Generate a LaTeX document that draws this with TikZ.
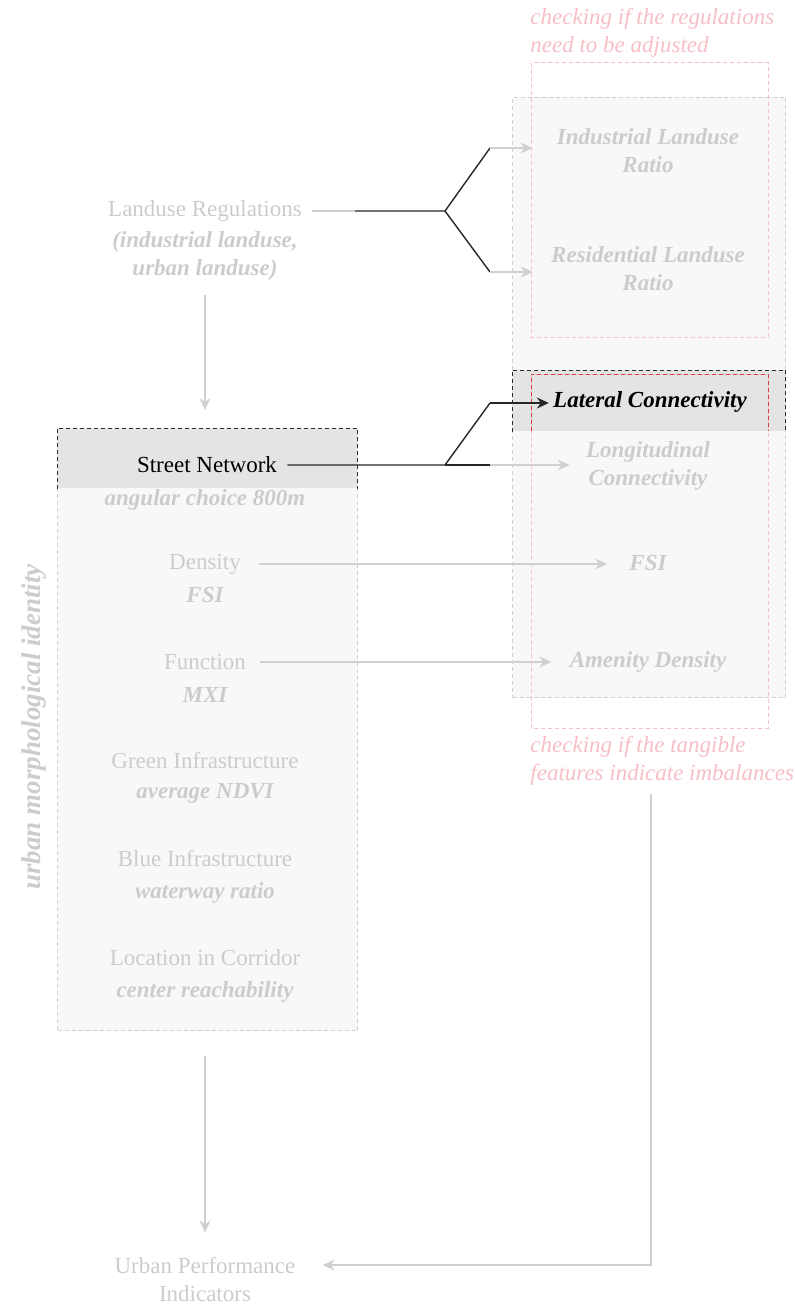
\documentclass[tikz,border=0pt]{standalone}
\usepackage{fontspec}
\setmainfont{LiberationSerif-Regular.ttf}[
  BoldFont=LiberationSerif-Bold.ttf,
  ItalicFont=LiberationSerif-Italic.ttf,
  BoldItalicFont=LiberationSerif-BoldItalic.ttf]
\usetikzlibrary{arrows.meta,positioning,calc}
\definecolor{txtgray}{RGB}{204,204,204}
\definecolor{linegray}{RGB}{208,208,208}
\definecolor{boxfill}{RGB}{248,248,248}
\definecolor{bandfill}{RGB}{228,228,228}
\definecolor{notepink}{RGB}{247,190,198}
\definecolor{dashpink}{RGB}{246,192,198}
\definecolor{dashred}{RGB}{214,64,64}
\definecolor{dashdark}{RGB}{45,45,45}
\newcommand{\lbfont}{\fontsize{11.5}{14}\selectfont}

\begin{document}
\begin{tikzpicture}[x=0.5pt,y=-0.5pt,
    lbl/.style={font=\lbfont, text=txtgray, align=center, inner sep=2pt},
    metric/.style={lbl, font=\lbfont\bfseries\itshape},
    note/.style={font=\lbfont\itshape, text=notepink, align=left, anchor=west, inner sep=1pt},
    gbox/.style={draw=linegray, dash pattern=on 2pt off 1.5pt, fill=boxfill, line width=0.5pt,
      anchor=north west, inner sep=0pt},
    band/.style={fill=bandfill, anchor=north west, inner sep=0pt},
    darkdash/.style={draw=dashdark, dash pattern=on 2pt off 1.5pt, line width=0.5pt},
    pinkdash/.style={draw=dashpink, dash pattern=on 2pt off 1.5pt, line width=0.5pt},
    reddash/.style={draw=dashred, dash pattern=on 2pt off 1.5pt, line width=0.5pt},
    gline/.style={draw=linegray, line width=0.9pt},
    bline/.style={draw=black!85, line width=0.7pt},
    garrow/.style={gline, -{Stealth[length=6pt,width=5.5pt,inset=2pt]}},
    barrow/.style={bline, -{Stealth[length=6pt,width=5.5pt,inset=2pt]}}
  ]
    \useasboundingbox (0,0) rectangle (794,1305);

    % boxes
    \node[gbox, minimum width=136.5pt, minimum height=300pt] (rightbox) at (512,97) {};
    \node[gbox, minimum width=150pt, minimum height=301pt] (leftbox) at (57,428) {};
    \node[band, minimum width=150pt, minimum height=30pt] (streetband) at (57,428) {};
    \node[band, minimum width=136.5pt, minimum height=30.5pt] (latband) at (512,370) {};
    \draw[darkdash] (streetband.south west) -- (streetband.north west) -- (streetband.north east) -- (streetband.south east);
    \draw[darkdash] (latband.south west) -- (latband.north west) -- (latband.north east) -- (latband.south east);
    \draw[pinkdash] (531,63) rectangle (768,337);
    \draw[pinkdash] (531,374) rectangle (768,728);
    \draw[reddash] (531,431) -- (531,374) -- (768,374) -- (768,431);

    % notes
    \node[note] (checkreg) at (528,33) {checking if the regulations\\need to be adjusted};
    \node[note] (checkfeat) at (528,761) {checking if the tangible\\features indicate imbalances};

    % left column
    \node[lbl] (landuse) at (205,211) {Landuse Regulations};
    \node[metric] (landsub) at (205,256) {(industrial landuse,\\urban landuse)};
    \node[lbl, text=black] (street) at (207,465) {Street Network};
    \node[metric] (angular) at (205,500) {angular choice 800m};
    \node[lbl] (density) at (205,564) {Density};
    \node[metric] (fsiL) at (205,595) {FSI};
    \node[lbl] (function) at (205,662) {Function};
    \node[metric] (mxi) at (205,695) {MXI};
    \node[lbl] (green) at (205,761) {Green Infrastructure};
    \node[metric] (ndvi) at (205,793) {average NDVI};
    \node[lbl] (blue) at (205,859) {Blue Infrastructure};
    \node[metric] (waterway) at (205,893) {waterway ratio};
    \node[lbl] (location) at (205,958) {Location in Corridor};
    \node[metric] (reach) at (205,992) {center reachability};
    \node[metric, font=\fontsize{13.5}{16}\selectfont\bfseries\itshape, rotate=90] (umi) at (34,727) {urban morphological identity};
    \node[lbl] (upi) at (205,1279) {Urban Performance\\Indicators};

    % right column
    \node[metric] (indratio) at (648,151) {Industrial Landuse\\Ratio};
    \node[metric] (resratio) at (648,269) {Residential Landuse\\Ratio};
    \node[metric, text=black] (lateral) at (650,402) {Lateral Connectivity};
    \node[metric] (longit) at (648,466) {Longitudinal\\Connectivity};
    \node[metric] (fsiR) at (648,563) {FSI};
    \node[metric] (amenity) at (648,662) {Amenity Density};

    % landuse fork
    \coordinate (lrj) at (355,211);
    \coordinate (lrfork) at (445,211);
    \coordinate (indbend) at (490,148);
    \coordinate (resbend) at (490,272);
    \draw[gline, shorten <=3pt] (landuse.east) -- (lrj);
    \draw[bline] (lrj) -- (lrfork) -- (indbend);
    \draw[bline] (lrfork) -- (resbend);
    \draw[garrow, shorten >=10pt] (indbend) -- (indbend -| indratio.west);
    \draw[garrow, shorten >=7pt] (resbend) -- (resbend -| resratio.west);

    % street network fork
    \coordinate (snfork) at (445,465);
    \coordinate (latbend) at (490,403);
    \coordinate (lonbend) at (490,465);
    \draw[bline, shorten <=3pt] (street.east) -- (snfork) -- (latbend);
    \draw[barrow] (latbend) -- (latbend -| lateral.west);
    \draw[bline] (snfork) -- (lonbend);
    \draw[garrow, shorten >=6pt] (lonbend) -- (lonbend -| longit.west);

    % direct links
    \draw[garrow, shorten <=7pt, shorten >=9pt] (density.east) -- (density.east -| fsiR.west);
    \draw[garrow, shorten <=5pt, shorten >=7pt] (function.east) -- (function.east -| amenity.west);

    % vertical flow
    \draw[garrow, shorten <=5pt, shorten >=9pt] (landsub.south) -- (streetband.north -| landsub.south);
    \draw[garrow, shorten <=12.5pt, shorten >=10pt] (leftbox.south -| upi.north) -- (upi.north);

    % feedback
    \coordinate (fbturn) at (651,1265);
    \draw[garrow, shorten <=3pt, shorten >=11.5pt] (checkfeat.south -| fbturn) -- (fbturn) -- (upi.east |- fbturn);
  \end{tikzpicture}
\end{document}
